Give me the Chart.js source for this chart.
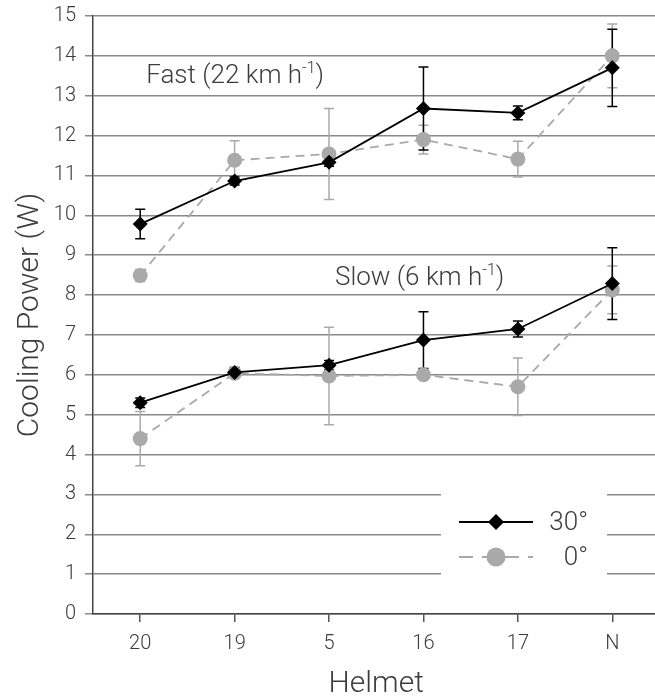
<!DOCTYPE html>
<html>
<head>
<meta charset="utf-8">
<script src="https://cdn.jsdelivr.net/npm/chart.js@4.4.0/dist/chart.umd.min.js"></script>
<style>
  html, body { margin: 0; padding: 0; background: #fff; overflow: hidden; }
  canvas { display: block; }
</style>
</head>
<body>
<canvas id="plot" width="667" height="696"></canvas>
<script>
// Cascos (eje x)
const cascos = ['20', '19', '5', '16', '17', 'N'];

// Rapido (22 km/h)
const rapido30 = [9.78, 10.86, 11.33, 12.68, 12.57, 13.70];
const rapido30Err = [0.37, 0.10, 0.10, 1.04, 0.17, 0.97];
const rapido0 = [8.49, 11.38, 11.54, 11.90, 11.41, 14.00];
const rapido0Err = [0.15, 0.49, 1.14, 0.36, 0.45, 0.80];

// Lento (6 km/h)
const lento30 = [5.30, 6.06, 6.24, 6.87, 7.15, 8.29];
const lento30Err = [0.12, 0.12, 0.12, 0.71, 0.20, 0.90];
const lento0 = [4.40, 6.04, 5.97, 6.00, 5.70, 8.13];
const lento0Err = [0.68, 0.10, 1.22, 0.10, 0.72, 0.60];

const ticksY = [0, 15];

const fuente = "Roboto, 'Liberation Sans', Arial, sans-serif";
const gris = '#a9a9a9';
const texto = '#3c3c3c';

//Barras de error y caja blanca de la leyenda
let barrasError = {
  id: 'barrasError',
  beforeDatasetsDraw(chart) {
    let ctx = chart.ctx;
    let x = chart.scales.x;
    let y = chart.scales.y;
    ctx.save();
    ctx.fillStyle = '#fff';
    ctx.fillRect(441, 470, 166, 130);
    let lista = chart.data.datasets.slice().reverse();
    lista.forEach(ds => {
      ctx.strokeStyle = ds.errColor;
      ctx.lineWidth = 1.5;
      ds.data.forEach((v, i) => {
        let e = ds.err[i];
        let px = x.getPixelForValue(i);
        let arriba = y.getPixelForValue(v + e);
        let abajo = y.getPixelForValue(v - e);
        ctx.beginPath();
        ctx.moveTo(px, arriba); ctx.lineTo(px, abajo);
        ctx.moveTo(px - 5, arriba); ctx.lineTo(px + 5, arriba);
        ctx.moveTo(px - 5, abajo); ctx.lineTo(px + 5, abajo);
        ctx.stroke();
      });
    });
    ctx.restore();
  }
};

//Texto con superindice
let textoSup = (ctx, x, y, base, sup, fin, size) => {
  ctx.font = `300 ${size}px ${fuente}`;
  ctx.fillText(base, x, y);
  let w = ctx.measureText(base).width;
  ctx.font = `300 ${Math.round(size * 0.6)}px ${fuente}`;
  ctx.fillText(sup, x + w, y - size * 0.4);
  let w2 = ctx.measureText(sup).width;
  ctx.font = `300 ${size}px ${fuente}`;
  ctx.fillText(fin, x + w + w2, y);
};

//Leyenda y etiquetas
let leyenda = {
  id: 'leyenda',
  afterDraw(chart) {
    let ctx = chart.ctx;
    let x = chart.scales.x;
    ctx.save();
    ctx.fillStyle = texto;
    ctx.textBaseline = 'alphabetic';
    ctx.textAlign = 'left';
    textoSup(ctx, x.getPixelForValue(0) + 6, 83, 'Fast (22 km h', '-1', ')', 26);
    textoSup(ctx, x.getPixelForValue(2) + 6, 285, 'Slow (6 km h', '-1', ')', 26);

    let filas = [chart.data.datasets[0], chart.data.datasets[2]];
    let ys = [522, 557];
    let radios = [8, 9.5];
    filas.forEach((ds, k) => {
      ctx.strokeStyle = ds.borderColor;
      ctx.lineWidth = ds.borderWidth;
      ctx.setLineDash(k ? [14, 9] : []);
      ctx.beginPath();
      ctx.moveTo(459, ys[k]);
      ctx.lineTo(533, ys[k]);
      ctx.stroke();
      ctx.setLineDash([]);
      ctx.fillStyle = ds.backgroundColor;
      Chart.helpers.drawPoint(ctx, { pointStyle: ds.pointStyle, radius: radios[k], borderWidth: 0, rotation: 0 }, 496, ys[k]);
      ctx.fillStyle = texto;
      ctx.textAlign = 'right';
      ctx.textBaseline = 'middle';
      ctx.font = `300 26px ${fuente}`;
      ctx.fillText(ds.label, 588, ys[k] + 1);
    });
    ctx.restore();
  }
};

let serie = (label, data, err, negro) => ({
  label: label,
  data: data,
  err: err,
  errColor: negro ? '#000' : gris,
  borderColor: negro ? '#000' : gris,
  backgroundColor: negro ? '#000' : gris,
  borderWidth: 1.8,
  borderDash: negro ? [] : [9, 6],
  pointStyle: negro ? 'rectRot' : 'circle',
  pointRadius: 7.5,
  pointBorderWidth: 0,
  tension: 0,
  order: negro ? 1 : 2
});

let config = {
  type: 'line',
  data: {
    labels: cascos,
    datasets: [
      serie('30°', rapido30, rapido30Err, true),
      serie('30°', lento30, lento30Err, true),
      serie('0°', rapido0, rapido0Err, false),
      serie('0°', lento0, lento0Err, false)
    ]
  },
  options: {
    responsive: false,
    animation: false,
    layout: { padding: { top: 16, right: 1, left: 0, bottom: 0 } },
    plugins: { legend: { display: false }, tooltip: { enabled: false } },
    scales: {
      x: {
        offset: true,
        grid: { offset: false, drawOnChartArea: false, drawTicks: true, tickLength: 8, color: '#555', lineWidth: 1.5 },
        border: { color: '#444', width: 1.5 },
        ticks: { color: texto, font: { family: fuente, size: 20, weight: 300 }, padding: 10 },
        title: { display: true, text: 'Helmet', color: texto, font: { family: fuente, size: 30, weight: 300, lineHeight: 0.8 }, padding: 0 },
        afterFit: s => { s.height = 82; }
      },
      y: {
        min: ticksY[0],
        max: ticksY[1],
        ticks: { stepSize: 1, color: texto, font: { family: fuente, size: 20, weight: 300, lineHeight: 0.7 }, padding: 9 },
        grid: { color: '#888', lineWidth: 1.5, tickLength: 8 },
        border: { color: '#444', width: 1.5 },
        title: { display: true, text: 'Cooling Power (W)', color: texto, font: { family: fuente, size: 30, weight: 300, lineHeight: 1 }, padding: { top: 15, bottom: 0 } },
        afterFit: s => { s.width = 93; }
      }
    }
  },
  plugins: [barrasError, leyenda]
};

let chart1 = new Chart(document.getElementById('plot'), config);
</script>
</body>
</html>
